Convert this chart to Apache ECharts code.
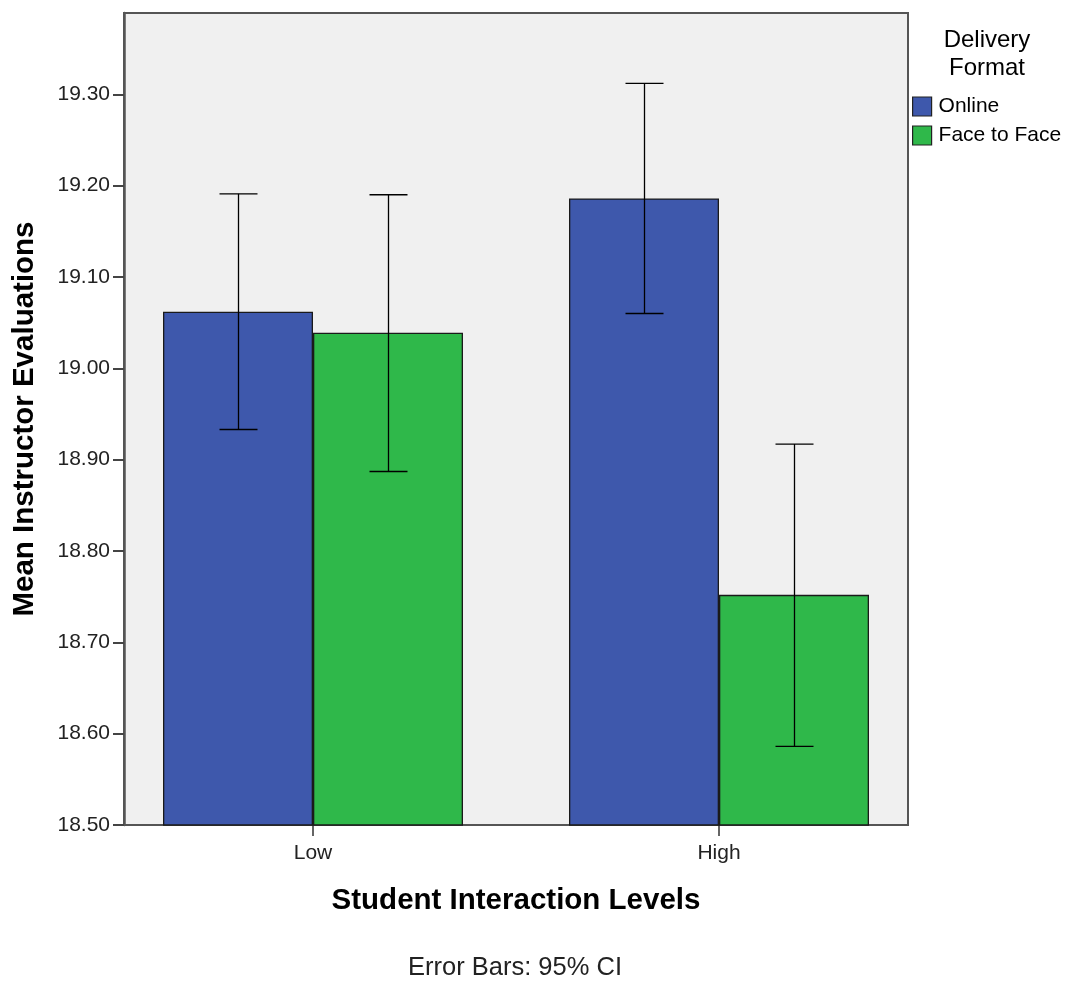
<!DOCTYPE html>
<html>
<head>
<meta charset="utf-8">
<script src="https://cdn.jsdelivr.net/npm/echarts@6/dist/echarts.min.js"></script>
<style>
  html, body { margin: 0; padding: 0; background: #ffffff; }
  #chart { width: 1067px; height: 982px; }
</style>
</head>
<body>
<div id="chart"></div>
<script>
// Mean instructor evaluations by student interaction level and delivery format
const categories = ['Low', 'High'];
const seriesNames = ['Online', 'Face to Face'];
const onlineMean = [19.062, 19.186];
const onlineLower = [18.933, 19.060];
const onlineUpper = [19.191, 19.312];
const f2fMean = [19.039, 18.752];
const f2fLower = [18.887, 18.586];
const f2fUpper = [19.190, 18.917];
const yTicks = [18.5, 18.6, 18.7, 18.8, 18.9, 19.0, 19.1, 19.2, 19.3];

const yMin = 18.5, yMax = 19.389;
const font = 'Arial, "Liberation Sans", sans-serif';
const barW = 150;

const chart = echarts.init(document.getElementById('chart'), null, { renderer: 'canvas' });

function errorSeries(name, lower, upper, offset) {
  return {
    type: 'custom',
    name: name + ' CI',
    xAxisIndex: 1,
    yAxisIndex: 1,
    z: 5,
    silent: true,
    data: categories.map((c, i) => [i, lower[i], upper[i]]),
    renderItem: function (params, api) {
      const lo = api.coord([api.value(0), api.value(1)]);
      const hi = api.coord([api.value(0), api.value(2)]);
      const x = Math.round(lo[0] + offset) + 0.5;
      const cap = 19;
      const style = { stroke: '#000000', lineWidth: 1.3 };
      return {
        type: 'group',
        children: [
          { type: 'line', shape: { x1: x, y1: hi[1], x2: x, y2: lo[1] }, style: style },
          { type: 'line', shape: { x1: x - cap, y1: hi[1], x2: x + cap, y2: hi[1] }, style: style },
          { type: 'line', shape: { x1: x - cap, y1: lo[1], x2: x + cap, y2: lo[1] }, style: style }
        ]
      };
    }
  };
}

const option = {
  animation: false,
  backgroundColor: '#ffffff',
  grid: [
    // frame of the plot area
    { left: 124, top: 13, width: 784, height: 812, show: true, outerBoundsMode: 'none',
      backgroundColor: '#f0f0f0', borderColor: '#555555', borderWidth: 2 },
    // bar layout: category bands 406px apart
    { left: 110, top: 13, width: 812, height: 812, outerBoundsMode: 'none' }
  ],
  legend: {
    orient: 'vertical',
    left: 912,
    top: 96,
    padding: 0,
    itemWidth: 19,
    itemHeight: 19,
    itemGap: 8,
    icon: 'rect',
    textStyle: { fontFamily: font, fontSize: 21, color: '#000000', padding: [0, 0, 0, 2] },
    itemStyle: { borderColor: '#222222', borderWidth: 1.2 },
    data: seriesNames
  },
  title: [
    { text: 'Delivery\nFormat', left: 987, top: 26, textAlign: 'center', padding: 0,
      textStyle: { fontFamily: font, fontSize: 24, fontWeight: 'normal', color: '#000000', lineHeight: 28 } },
    { text: 'Error Bars: 95% CI', left: 515, top: 955, textAlign: 'center', padding: 0,
      textStyle: { fontFamily: font, fontSize: 25.5, fontWeight: 'normal', color: '#222222' } }
  ],
  xAxis: [
    { type: 'value', gridIndex: 0, min: 0, max: 1, show: false },
    {
      type: 'category', gridIndex: 1, data: categories,
      name: 'Student Interaction Levels', nameLocation: 'middle', nameGap: 61,
      nameTextStyle: { fontFamily: font, fontSize: 29.5, fontWeight: 'bold', color: '#000000' },
      axisLine: { show: false },
      axisTick: { show: true, alignWithLabel: true, length: 11, lineStyle: { color: '#333333', width: 1.5 } },
      axisLabel: { fontFamily: font, fontSize: 21, color: '#222222', margin: 18 }
    }
  ],
  yAxis: [
    {
      type: 'value', gridIndex: 0, min: yMin, max: yMax,
      name: 'Mean Instructor Evaluations', nameLocation: 'middle', nameGap: 84,
      nameTextStyle: { fontFamily: font, fontSize: 29.5, fontWeight: 'bold', color: '#000000' },
      axisLine: { show: true, lineStyle: { color: '#555555', width: 2.5 } },
      axisTick: { show: true, length: 11, lineStyle: { color: '#444444', width: 2 },
        customValues: yTicks },
      axisLabel: { fontFamily: font, fontSize: 21, color: '#222222', margin: 14,
        customValues: yTicks, formatter: v => v.toFixed(2) },
      splitLine: { show: false }
    },
    { type: 'value', gridIndex: 1, min: yMin, max: yMax, show: false }
  ],
  series: [
    {
      name: seriesNames[0], type: 'bar', xAxisIndex: 1, yAxisIndex: 1,
      data: onlineMean, barWidth: barW, barGap: '0%',
      itemStyle: { color: '#3e58ac', borderColor: '#1a1a1a', borderWidth: 1.3 }
    },
    {
      name: seriesNames[1], type: 'bar', xAxisIndex: 1, yAxisIndex: 1,
      data: f2fMean, barWidth: barW, barGap: '0%',
      itemStyle: { color: '#2fb84a', borderColor: '#1a1a1a', borderWidth: 1.3 }
    },
    errorSeries(seriesNames[0], onlineLower, onlineUpper, -barW / 2),
    errorSeries(seriesNames[1], f2fLower, f2fUpper, barW / 2)
  ]
};

chart.setOption(option);
</script>
</body>
</html>
